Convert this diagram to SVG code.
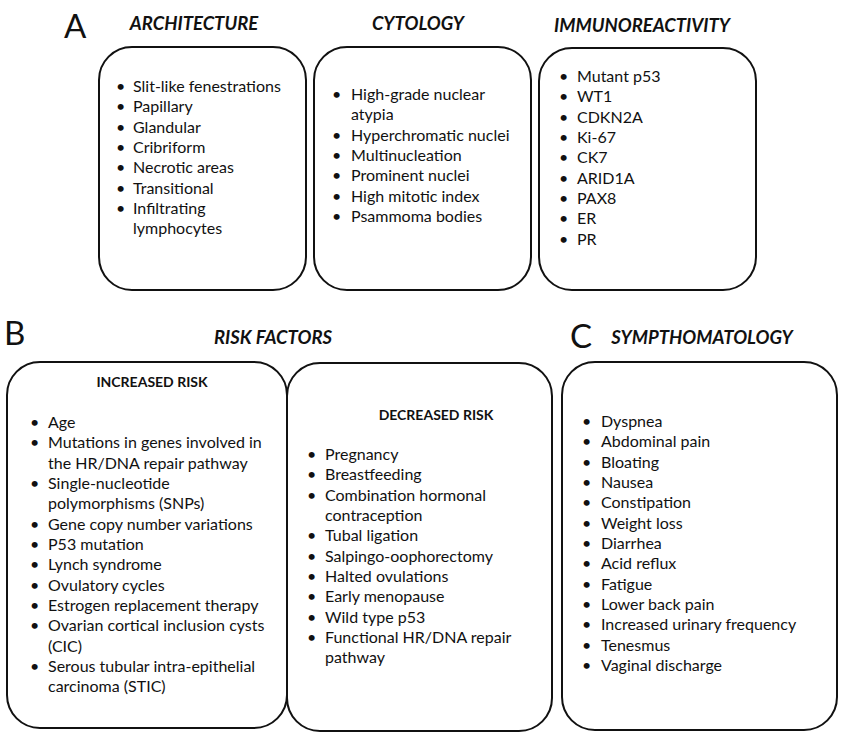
<svg xmlns="http://www.w3.org/2000/svg" width="850" height="750" viewBox="0 0 850 750">
<style>
.box{fill:#fff;stroke:#111;stroke-width:2}
.t{font-family:Lato,"Liberation Sans",sans-serif;font-size:16px;fill:#111}
.h{font-family:Lato,"Liberation Sans",sans-serif;font-size:18.5px;font-weight:bold;font-style:italic;fill:#111}
.sub{font-family:Lato,"Liberation Sans",sans-serif;font-size:14px;font-weight:bold;fill:#111}
.L{font-family:Lato,"Liberation Sans",sans-serif;font-size:33px;fill:#111}
</style>
<rect width="850" height="750" fill="#fff"/>
<g id="labels">
<text class="L" x="64" y="38">A</text>
<text class="L" x="4" y="345">B</text>
<text class="L" x="570" y="348">C</text>
<text class="h" x="194" y="30" text-anchor="middle">ARCHITECTURE</text>
<text class="h" x="418" y="30" text-anchor="middle">CYTOLOGY</text>
<text class="h" x="642" y="32" text-anchor="middle">IMMUNOREACTIVITY</text>
<text class="h" x="273" y="344" text-anchor="middle">RISK FACTORS</text>
<text class="h" x="702" y="344" text-anchor="middle">SYMPTHOMATOLOGY</text>
</g>
<g id="architecture">
<rect class="box" x="99" y="47" width="207" height="243" rx="33"/>
<g class="t">
<text x="116" y="92">•</text><text x="133" y="92">Slit-like fenestrations</text>
<text x="116" y="112">•</text><text x="133" y="112">Papillary</text>
<text x="116" y="133">•</text><text x="133" y="133">Glandular</text>
<text x="116" y="153">•</text><text x="133" y="153">Cribriform</text>
<text x="116" y="173">•</text><text x="133" y="173">Necrotic areas</text>
<text x="116" y="194">•</text><text x="133" y="194">Transitional</text>
<text x="116" y="214">•</text><text x="133" y="214">Infiltrating</text>
<text x="133" y="234">lymphocytes</text>
</g>
</g>
<g id="cytology">
<rect class="box" x="314" y="47" width="217" height="243" rx="33"/>
<g class="t">
<text x="332" y="100">•</text><text x="351" y="100">High-grade nuclear</text>
<text x="351" y="120">atypia</text>
<text x="332" y="141">•</text><text x="351" y="141">Hyperchromatic nuclei</text>
<text x="332" y="161">•</text><text x="351" y="161">Multinucleation</text>
<text x="332" y="181">•</text><text x="351" y="181">Prominent nuclei</text>
<text x="332" y="202">•</text><text x="351" y="202">High mitotic index</text>
<text x="332" y="222">•</text><text x="351" y="222">Psammoma bodies</text>
</g>
</g>
<g id="immunoreactivity">
<rect class="box" x="539" y="48" width="217" height="242" rx="33"/>
<g class="t">
<text x="559" y="82">•</text><text x="577" y="82">Mutant p53</text>
<text x="559" y="102">•</text><text x="577" y="102">WT1</text>
<text x="559" y="123">•</text><text x="577" y="123">CDKN2A</text>
<text x="559" y="143">•</text><text x="577" y="143">Ki-67</text>
<text x="559" y="163">•</text><text x="577" y="163">CK7</text>
<text x="559" y="184">•</text><text x="577" y="184">ARID1A</text>
<text x="559" y="204">•</text><text x="577" y="204">PAX8</text>
<text x="559" y="224">•</text><text x="577" y="224">ER</text>
<text x="559" y="245">•</text><text x="577" y="245">PR</text>
</g>
</g>
<g id="increased-risk">
<rect class="box" x="7" y="362" width="280" height="366" rx="33"/>
<text class="sub" x="152" y="387" text-anchor="middle">INCREASED RISK</text>
<g class="t">
<text x="30" y="428">•</text><text x="48" y="428">Age</text>
<text x="30" y="448">•</text><text x="48" y="448">Mutations in genes involved in</text>
<text x="48" y="469">the HR/DNA repair pathway</text>
<text x="30" y="489">•</text><text x="48" y="489">Single-nucleotide</text>
<text x="48" y="509">polymorphisms (SNPs)</text>
<text x="30" y="530">•</text><text x="48" y="530">Gene copy number variations</text>
<text x="30" y="550">•</text><text x="48" y="550">P53 mutation</text>
<text x="30" y="570">•</text><text x="48" y="570">Lynch syndrome</text>
<text x="30" y="591">•</text><text x="48" y="591">Ovulatory cycles</text>
<text x="30" y="611">•</text><text x="48" y="611">Estrogen replacement therapy</text>
<text x="30" y="631">•</text><text x="48" y="631">Ovarian cortical inclusion cysts</text>
<text x="48" y="652">(CIC)</text>
<text x="30" y="672">•</text><text x="48" y="672">Serous tubular intra-epithelial</text>
<text x="48" y="692">carcinoma (STIC)</text>
</g>
</g>
<g id="decreased-risk">
<rect class="box" x="287" y="363" width="265" height="368" rx="33"/>
<text class="sub" x="436" y="420" text-anchor="middle">DECREASED RISK</text>
<g class="t">
<text x="307" y="460">•</text><text x="325" y="460">Pregnancy</text>
<text x="307" y="480">•</text><text x="325" y="480">Breastfeeding</text>
<text x="307" y="501">•</text><text x="325" y="501">Combination hormonal</text>
<text x="325" y="521">contraception</text>
<text x="307" y="541">•</text><text x="325" y="541">Tubal ligation</text>
<text x="307" y="562">•</text><text x="325" y="562">Salpingo-oophorectomy</text>
<text x="307" y="582">•</text><text x="325" y="582">Halted ovulations</text>
<text x="307" y="602">•</text><text x="325" y="602">Early menopause</text>
<text x="307" y="623">•</text><text x="325" y="623">Wild type p53</text>
<text x="307" y="643">•</text><text x="325" y="643">Functional HR/DNA repair</text>
<text x="325" y="663">pathway</text>
</g>
</g>
<g id="symptomatology">
<rect class="box" x="562" y="362" width="275" height="368" rx="33"/>
<g class="t">
<text x="582" y="427">•</text><text x="601" y="427">Dyspnea</text>
<text x="582" y="447">•</text><text x="601" y="447">Abdominal pain</text>
<text x="582" y="468">•</text><text x="601" y="468">Bloating</text>
<text x="582" y="488">•</text><text x="601" y="488">Nausea</text>
<text x="582" y="508">•</text><text x="601" y="508">Constipation</text>
<text x="582" y="529">•</text><text x="601" y="529">Weight loss</text>
<text x="582" y="549">•</text><text x="601" y="549">Diarrhea</text>
<text x="582" y="569">•</text><text x="601" y="569">Acid reflux</text>
<text x="582" y="590">•</text><text x="601" y="590">Fatigue</text>
<text x="582" y="610">•</text><text x="601" y="610">Lower back pain</text>
<text x="582" y="630">•</text><text x="601" y="630">Increased urinary frequency</text>
<text x="582" y="651">•</text><text x="601" y="651">Tenesmus</text>
<text x="582" y="671">•</text><text x="601" y="671">Vaginal discharge</text>
</g>
</g>
<g id="connectors"></g>
</svg>
